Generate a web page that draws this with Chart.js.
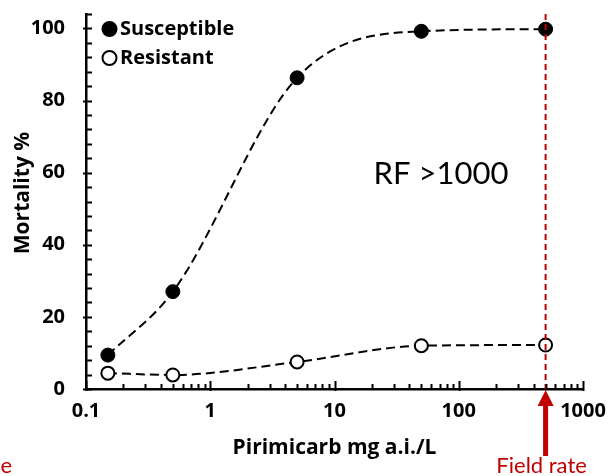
<!DOCTYPE html>
<html>
<head>
<meta charset="utf-8">
<script src="https://cdn.jsdelivr.net/npm/chart.js@4"></script>
<style>
  html, body { margin: 0; padding: 0; background: #ffffff; }
  #wrap { position: relative; width: 609px; height: 476px; }
</style>
</head>
<body>
<div id="wrap"><canvas id="c" width="609" height="476"></canvas></div>
<script>
// Pirimicarb concentrations (mg a.i./L)
const doses = [0.15, 0.5, 5, 50, 500];
// Mortality (%) for each aphid population
const susceptible = [9.4, 27.0, 86.3, 99.2, 99.8];
const resistant = [4.4, 3.9, 7.5, 12.0, 12.2];
// Axis ticks
const xTickValues = [0.1, 1, 10, 100, 1000];
const yTickValues = [0, 20, 40, 60, 80, 100];
const yMinorStep = 4;
const yMax = 104;
// Recommended field rate (mg a.i./L)
const fieldRate = 500;

const RED = '#C00000';
const BOLD_FAMILY = "'Open Sans'";
const tickFont = { family: BOLD_FAMILY, weight: 'bold', size: 20 };
const titleFont = { family: BOLD_FAMILY, weight: 'bold', size: 21 };

const points = arr => doses.map((d, i) => ({ x: d, y: arr[i] }));

// Inward tick marks on both axes, the field-rate marker and annotations
const decorations = {
  id: 'decorations',
  afterDatasetsDraw(chart) {
    const { ctx, chartArea: a, scales: { x } } = chart;
    ctx.save();
    const fx = x.getPixelForValue(fieldRate);
    ctx.strokeStyle = RED;
    ctx.lineWidth = 2;
    ctx.setLineDash([6, 4]);
    ctx.beginPath();
    ctx.moveTo(fx, a.top);
    ctx.lineTo(fx, a.bottom);
    ctx.stroke();
    ctx.restore();
  },
  afterDraw(chart) {
    const { ctx, chartArea: a, scales: { x, y } } = chart;
    ctx.save();
    ctx.strokeStyle = '#000';
    ctx.lineWidth = 2;
    // y ticks
    for (let v = 0; v <= yMax + 1e-9; v += yMinorStep) {
      const py = Math.round(y.getPixelForValue(v)) + 0.5;
      const major = v % 20 === 0;
      ctx.beginPath();
      ctx.moveTo(a.left - (major ? 3 : 0), py);
      ctx.lineTo(a.left + 6, py);
      ctx.stroke();
    }
    // x ticks: majors at decades, minors at 2..9
    for (let d = 0.1; d < 1000 * 1.01; d *= 10) {
      const px = Math.round(x.getPixelForValue(d)) + 0.5;
      ctx.beginPath();
      ctx.moveTo(px, a.bottom + 2);
      ctx.lineTo(px, a.bottom - 8);
      ctx.stroke();
      if (d < 999) {
        for (let k = 2; k <= 9; k++) {
          const mx = Math.round(x.getPixelForValue(k * d)) + 0.5;
          ctx.beginPath();
          ctx.moveTo(mx, a.bottom);
          ctx.lineTo(mx, a.bottom - 5);
          ctx.stroke();
        }
      }
    }
    // y-axis title
    ctx.save();
    ctx.translate(23, 193);
    ctx.rotate(-Math.PI / 2);
    ctx.fillStyle = '#000';
    ctx.font = `bold ${titleFont.size}px ${BOLD_FAMILY}`;
    ctx.textAlign = 'center';
    ctx.textBaseline = 'middle';
    ctx.fillText('Mortality %', 0, 0);
    ctx.restore();
    // field-rate arrow
    const fx = x.getPixelForValue(fieldRate);
    ctx.fillStyle = RED;
    ctx.fillRect(fx - 2.5, a.bottom + 14, 5, 53);
    ctx.beginPath();
    ctx.moveTo(fx, a.bottom + 1);
    ctx.lineTo(fx - 8, a.bottom + 17);
    ctx.lineTo(fx + 8, a.bottom + 17);
    ctx.closePath();
    ctx.fill();
    // field-rate labels
    ctx.font = '22px Lato';
    ctx.textBaseline = 'alphabetic';
    ctx.textAlign = 'center';
    ctx.fillText('Field rate', fx - 4, 473);
    ctx.textAlign = 'right';
    ctx.fillText('Field rate', 12, 473);
    // resistance factor
    ctx.fillStyle = '#000';
    ctx.font = '31px Lato';
    ctx.textAlign = 'center';
    ctx.textBaseline = 'middle';
    ctx.fillText('RF >1000', 441, 174);
    // legend
    const ds = chart.data.datasets;
    const legendY = [29, 58];
    ds.forEach((s, i) => {
      const cy = legendY[i];
      ctx.beginPath();
      ctx.arc(109.5, cy, 7, 0, Math.PI * 2);
      ctx.fillStyle = s.pointBackgroundColor;
      ctx.fill();
      ctx.lineWidth = 2;
      ctx.strokeStyle = '#000';
      ctx.stroke();
      ctx.fillStyle = '#000';
      ctx.font = `bold 20px ${BOLD_FAMILY}`;
      ctx.textAlign = 'left';
      ctx.textBaseline = 'middle';
      ctx.fillText(s.label, 120, cy);
    });
    ctx.restore();
  }
};

new Chart(document.getElementById('c'), {
  type: 'line',
  data: {
    datasets: [
      {
        label: 'Susceptible',
        data: points(susceptible),
        borderColor: '#000',
        borderWidth: 2,
        borderDash: [9, 5],
        pointBackgroundColor: '#000',
        pointBorderColor: '#000',
        pointBorderWidth: 1,
        pointRadius: 7,
        tension: 0.4,
        cubicInterpolationMode: 'monotone',
        fill: false
      },
      {
        label: 'Resistant',
        data: points(resistant),
        borderColor: '#000',
        borderWidth: 2,
        borderDash: [9, 5],
        pointBackgroundColor: '#fff',
        pointBorderColor: '#000',
        pointBorderWidth: 2,
        pointRadius: 6.5,
        tension: 0.4,
        cubicInterpolationMode: 'monotone',
        fill: false
      }
    ]
  },
  options: {
    responsive: false,
    animation: false,
    events: [],
    layout: { autoPadding: false, padding: { top: 14, right: 26, bottom: 0, left: 0 } },
    plugins: { legend: { display: false }, tooltip: { enabled: false } },
    scales: {
      x: {
        type: 'logarithmic',
        min: 0.1,
        max: 1000,
        afterBuildTicks: s => { s.ticks = xTickValues.map(v => ({ value: v })); },
        afterFit: s => { s.height = 87; },
        ticks: {
          color: '#000',
          font: tickFont,
          padding: 0,
          maxRotation: 0,
          autoSkip: false,
          callback: v => String(v)
        },
        // label offset comes from tickLength; the marks themselves are drawn by the plugin
        grid: { display: false, drawTicks: true, tickLength: 10 },
        border: { display: true, color: '#000', width: 2.5 },
        title: {
          display: true,
          text: 'Pirimicarb mg a.i./L',
          color: '#000',
          font: titleFont,
          padding: { top: 4, bottom: 15 }
        }
      },
      y: {
        type: 'linear',
        min: 0,
        max: yMax,
        afterBuildTicks: s => { s.ticks = yTickValues.map(v => ({ value: v })); },
        afterFit: s => { s.width = 86; },
        ticks: {
          color: '#000',
          font: tickFont,
          padding: 0,
          callback: v => String(v)
        },
        grid: { display: false, drawTicks: true, tickLength: 21 },
        border: { display: true, color: '#000', width: 2.5 },
        title: { display: false }
      }
    }
  },
  plugins: [decorations]
});
</script>
</body>
</html>
